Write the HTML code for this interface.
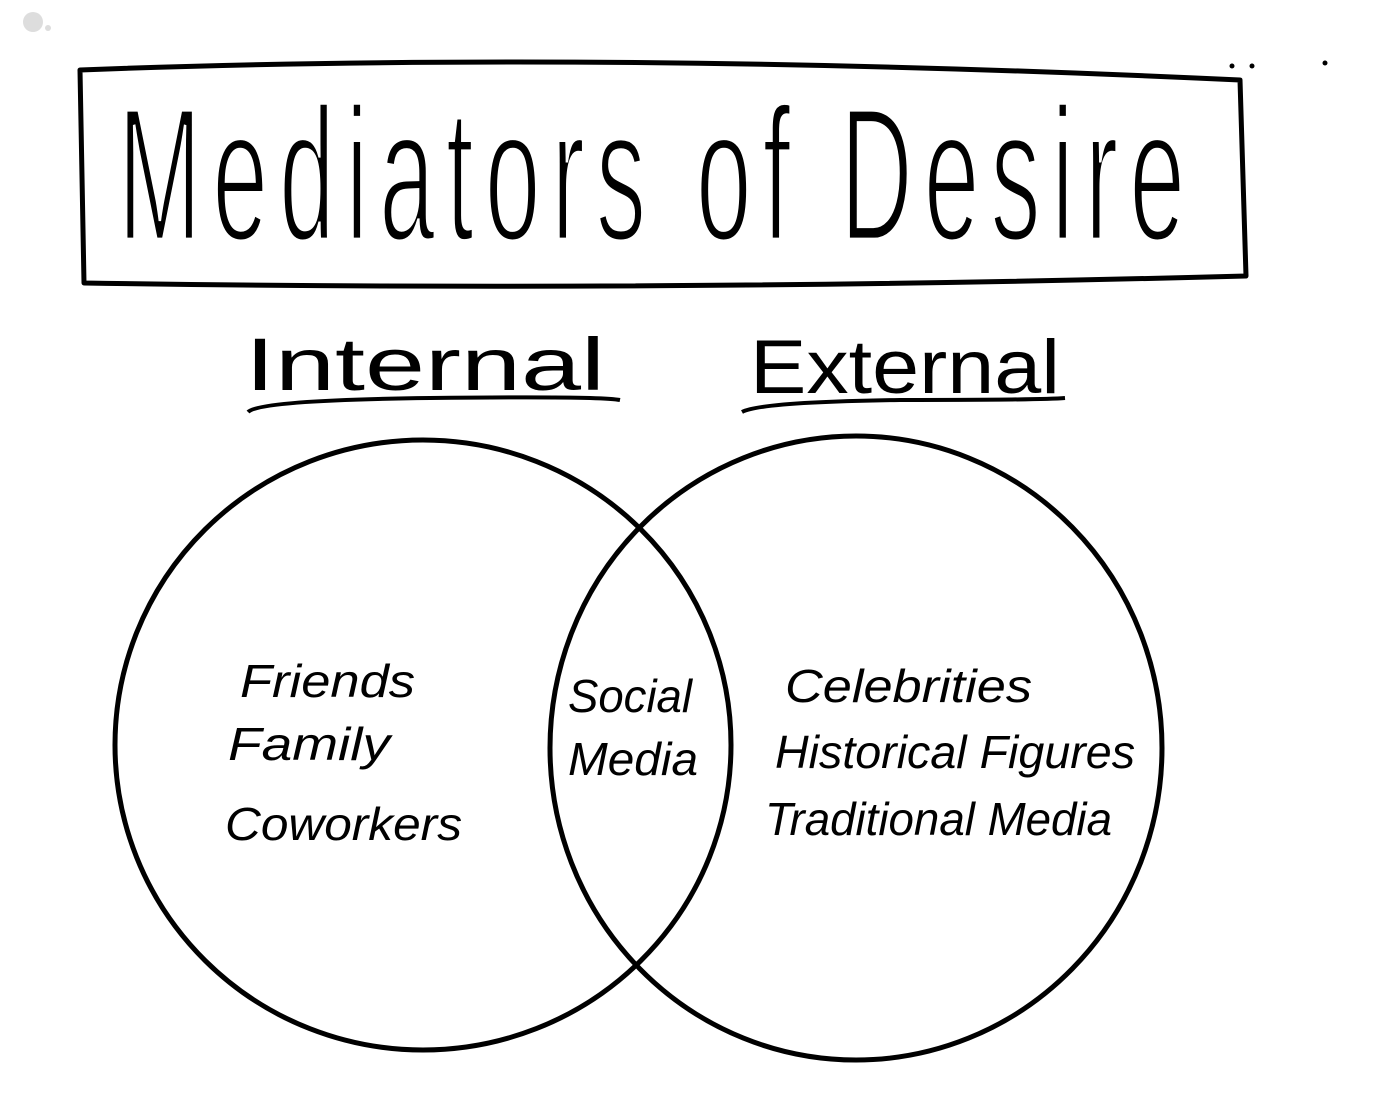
<!DOCTYPE html>
<html><head><meta charset="utf-8"><style>
html,body{margin:0;padding:0;background:#fff;}
svg{display:block;}
text{font-family:"Liberation Sans",sans-serif;fill:#000;}
</style></head><body>
<svg width="1398" height="1096" viewBox="0 0 1398 1096" xmlns="http://www.w3.org/2000/svg">
<circle cx="33" cy="22" r="10" fill="#ddd"/>
<circle cx="48" cy="28" r="3" fill="#ddd"/>
<circle cx="1232" cy="66" r="2.5" fill="#000"/>
<circle cx="1252" cy="66" r="2.5" fill="#000"/>
<circle cx="1325" cy="63" r="2.5" fill="#000"/>
<path d="M80 70 Q600 50 1240 80 L1246 276 Q650 292 84 283 Z" fill="none" stroke="#000" stroke-width="5" stroke-linejoin="round"/>
<g transform="translate(118,240) scale(1,1.9)">
<text x="0" y="0" font-size="100" textLength="1067" lengthAdjust="spacing" stroke="#fff" stroke-width="2.5">Mediators of Desire</text>
</g>
<text x="245" y="390" font-size="74" textLength="360" lengthAdjust="spacingAndGlyphs">Internal</text>
<path d="M248 412 Q260 400 430 398 Q600 396 620 400" fill="none" stroke="#000" stroke-width="4"/>
<text x="750" y="393" font-size="76" textLength="310" lengthAdjust="spacingAndGlyphs">External</text>
<path d="M742 412 Q760 402 900 400 Q1040 400 1065 398" fill="none" stroke="#000" stroke-width="4"/>
<ellipse cx="423" cy="745" rx="308" ry="305" fill="none" stroke="#000" stroke-width="5"/>
<ellipse cx="856" cy="748" rx="306" ry="312" fill="none" stroke="#000" stroke-width="5"/>
<g font-size="46" font-style="italic">
<text x="240" y="697" textLength="175" lengthAdjust="spacingAndGlyphs">Friends</text>
<text x="228" y="760" textLength="162" lengthAdjust="spacingAndGlyphs">Family</text>
<text x="225" y="840" textLength="237" lengthAdjust="spacingAndGlyphs">Coworkers</text>
<text x="568" y="712" textLength="124" lengthAdjust="spacingAndGlyphs">Social</text>
<text x="568" y="775" textLength="130" lengthAdjust="spacingAndGlyphs">Media</text>
<text x="785" y="702" textLength="247" lengthAdjust="spacingAndGlyphs">Celebrities</text>
<text x="775" y="768" textLength="360" lengthAdjust="spacingAndGlyphs">Historical Figures</text>
<text x="765" y="835" textLength="347" lengthAdjust="spacingAndGlyphs">Traditional Media</text>
</g>
</svg>
</body></html>
